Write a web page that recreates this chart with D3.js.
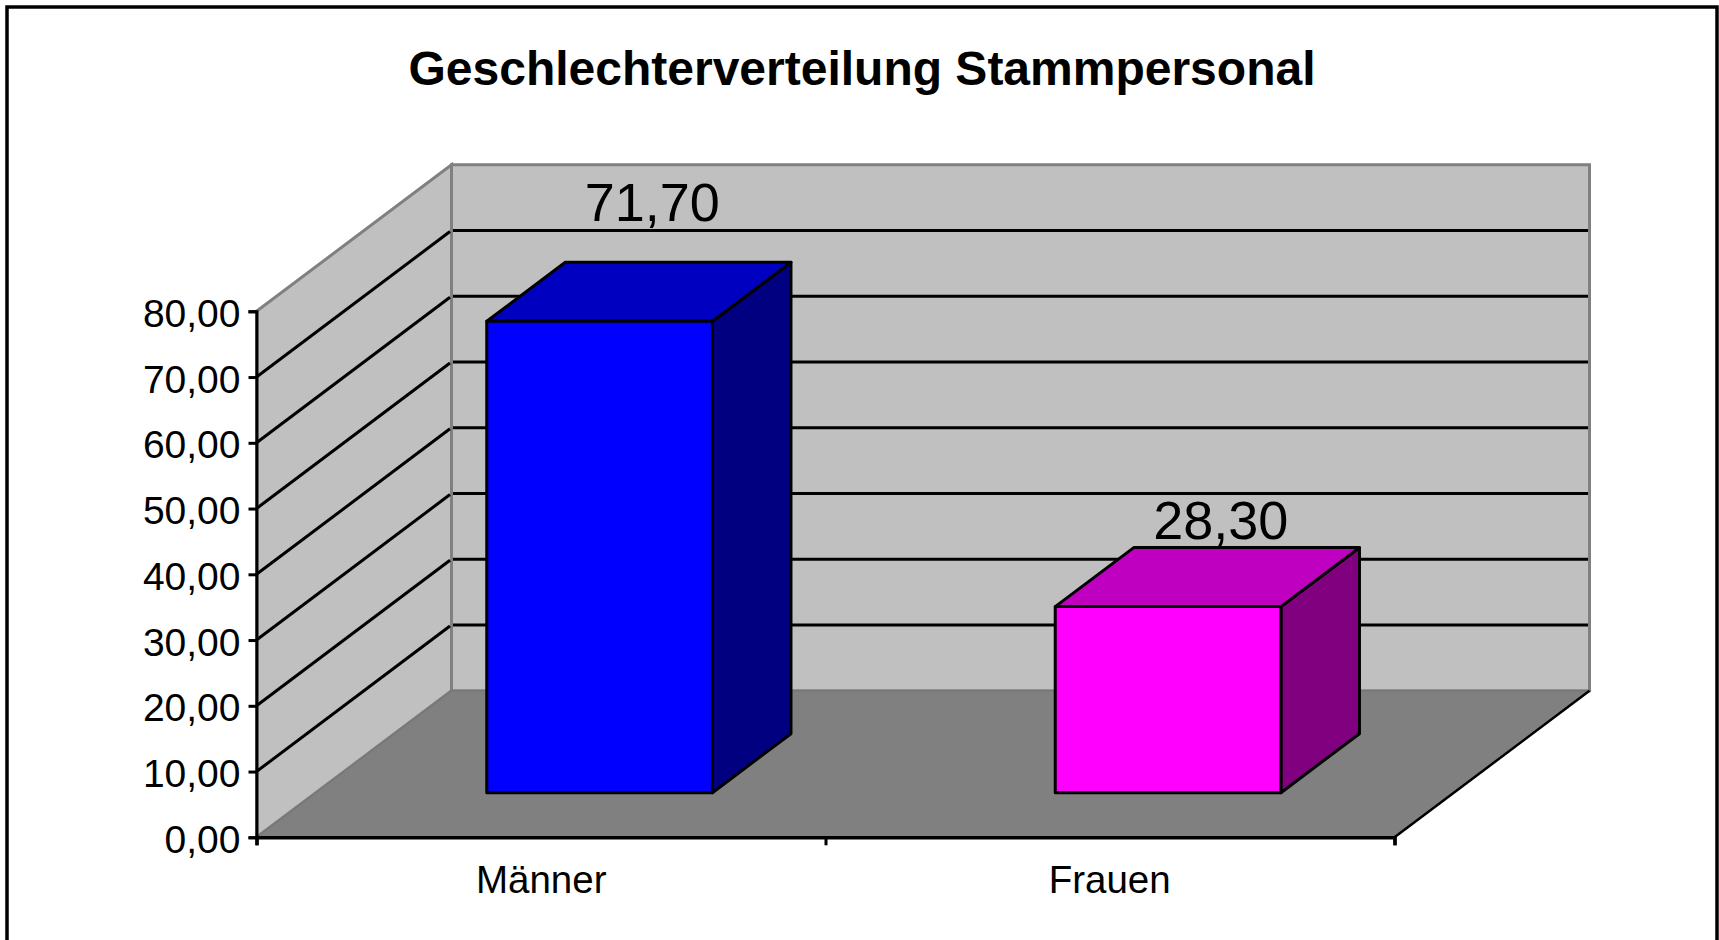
<!DOCTYPE html>
<html>
<head>
<meta charset="utf-8">
<script src="https://d3js.org/d3.v7.min.js"></script>
<style>
  html, body { margin: 0; padding: 0; background: #fff; overflow: hidden; }
  text { font-family: "Liberation Sans", Arial, sans-serif; fill: #000; }
</style>
</head>
<body>
<div id="chart"></div>
<script>
var title = 'Geschlechterverteilung Stammpersonal';
var categories = ['Männer', 'Frauen'];
var values = [71.7, 28.3];
var yTicks = [0, 10, 20, 30, 40, 50, 60, 70, 80];
var frontColors = ['#0000ff', '#ff00ff'];
var topColors = ['#0000c0', '#c000c0'];
var sideColors = ['#000080', '#800080'];
// the value labels do not sit at the same distance from their bars
var labelShift = [-41.6, -8.3];

var width = 1719, height = 940;

var svg = d3.select('#chart').append('svg')
  .attr('width', width)
  .attr('height', height)
  .style('display', 'block');

// outer frame, the bottom edge is cut off by the picture
svg.append('rect')
  .attr('x', 7).attr('y', 7)
  .attr('width', 1710).attr('height', 960)
  .attr('fill', '#fff')
  .attr('stroke', '#000')
  .attr('stroke-width', 3.5);

svg.append('text')
  .attr('x', 862).attr('y', 85)
  .attr('text-anchor', 'middle')
  .attr('font-size', 48)
  .attr('font-weight', 'bold')
  .text(title);

var x = d3.scaleBand().domain(categories).range([256.5, 1394.5])
  .paddingInner(0.603).paddingOuter(0.3024).align(0.497);
var xEdge = d3.scaleLinear().domain([0, categories.length]).range([256.5, 1394.5]);
var y = d3.scaleLinear().domain([0, 80]).range([837.3, 311.3]);
// depth of the 3d box, 0 is the front and 1 the back wall
var depthX = d3.scaleLinear().domain([0, 1]).range([0, 195]);
var depthY = d3.scaleLinear().domain([0, 1]).range([0, -146.5]);
var barFront = 0.3045, barBack = 0.7072;

var pt = function (px, value, z) {
  return [px + depthX(z), y(value) + depthY(z)];
};
var line = d3.line();
var poly = function (points) { return line(points) + 'Z'; };

var x0 = xEdge(0), x1 = xEdge(categories.length);

// side wall, back wall, floor
svg.append('path')
  .attr('d', poly([pt(x0, 0, 0), pt(x0, 80, 0), pt(x0, 80, 1), pt(x0, 0, 1)]))
  .attr('fill', '#c0c0c0').attr('stroke', '#808080').attr('stroke-width', 3);
svg.append('path')
  .attr('d', poly([pt(x0, 0, 1), pt(x0, 80, 1), pt(x1, 80, 1), pt(x1, 0, 1)]))
  .attr('fill', '#c0c0c0').attr('stroke', '#808080').attr('stroke-width', 3);
svg.append('path')
  .attr('d', poly([pt(x0, 0, 0), pt(x0, 0, 1), pt(x1, 0, 1), pt(x1, 0, 0)]))
  .attr('fill', '#808080').attr('stroke', '#777').attr('stroke-width', 1.5);

// gridlines on both walls
var grid = yTicks.slice(1, -1);
svg.selectAll('line.side').data(grid).enter().append('line')
  .attr('class', 'side')
  .attr('x1', function (d) { return pt(x0, d, 0)[0]; })
  .attr('y1', function (d) { return pt(x0, d, 0)[1]; })
  .attr('x2', function (d) { return pt(x0, d, 1)[0] - 1.5; })
  .attr('y2', function (d) { return pt(x0, d, 1)[1] + 1; })
  .attr('stroke', '#000').attr('stroke-width', 3);
svg.selectAll('line.back').data(grid).enter().append('line')
  .attr('class', 'back')
  .attr('x1', function (d) { return pt(x0, d, 1)[0] + 1.5; })
  .attr('y1', function (d) { return pt(x0, d, 1)[1]; })
  .attr('x2', function (d) { return pt(x1, d, 1)[0] - 1.5; })
  .attr('y2', function (d) { return pt(x1, d, 1)[1]; })
  .attr('stroke', '#000').attr('stroke-width', 3);

// right edge of the floor
svg.append('line')
  .attr('x1', pt(x1, 0, 0)[0]).attr('y1', pt(x1, 0, 0)[1])
  .attr('x2', pt(x1, 0, 1)[0]).attr('y2', pt(x1, 0, 1)[1])
  .attr('stroke', '#000').attr('stroke-width', 2.5);

// bars
var bars = svg.selectAll('g.bar').data(categories).enter().append('g').attr('class', 'bar');
bars.append('path')
  .attr('d', function (d, i) {
    var a = x(d), b = a + x.bandwidth();
    return poly([pt(b, 0, barFront), pt(b, values[i], barFront), pt(b, values[i], barBack), pt(b, 0, barBack)]);
  })
  .attr('fill', function (d, i) { return sideColors[i]; });
bars.append('path')
  .attr('d', function (d, i) {
    var a = x(d), b = a + x.bandwidth();
    return poly([pt(a, values[i], barFront), pt(a, values[i], barBack), pt(b, values[i], barBack), pt(b, values[i], barFront)]);
  })
  .attr('fill', function (d, i) { return topColors[i]; });
bars.append('path')
  .attr('d', function (d, i) {
    var a = x(d), b = a + x.bandwidth();
    return poly([pt(a, 0, barFront), pt(a, values[i], barFront), pt(b, values[i], barFront), pt(b, 0, barFront)]);
  })
  .attr('fill', function (d, i) { return frontColors[i]; });
bars.selectAll('path')
  .attr('stroke', '#000').attr('stroke-width', 3).attr('stroke-linejoin', 'round');

var de = d3.formatLocale({ decimal: ',', thousands: '.', grouping: [3], currency: ['', ' €'] });
var fmt = de.format('.2f');

// value labels
svg.selectAll('text.value').data(categories).enter().append('text')
  .attr('class', 'value')
  .attr('x', function (d) { return x(d) + x.bandwidth() / 2 + depthX(barFront) + 52.7; })
  .attr('y', function (d, i) { return y(values[i]) + depthY(barBack) + labelShift[i]; })
  .attr('text-anchor', 'middle')
  .attr('font-size', 54)
  .text(function (d, i) { return fmt(values[i]); });

// axes
var yAxis = d3.axisLeft(y).tickValues(yTicks).tickFormat(fmt).tickSize(8).tickPadding(8);
var gy = svg.append('g').attr('transform', 'translate(' + x0 + ',0)').call(yAxis);
gy.select('.domain').attr('stroke', '#000').attr('stroke-width', 3);
gy.selectAll('.tick line').attr('stroke', '#000').attr('stroke-width', 3);
gy.selectAll('text').attr('font-size', 39).attr('y', 2.5);

var xAxis = d3.axisBottom(xEdge).tickValues([0, 1, 2]).tickFormat('').tickSize(8);
var gx = svg.append('g').attr('transform', 'translate(0,' + y(0) + ')').call(xAxis);
gx.select('.domain').attr('stroke', '#000').attr('stroke-width', 3.5);
gx.selectAll('.tick line').attr('stroke', '#000').attr('stroke-width', 3);

svg.selectAll('text.cat').data(categories).enter().append('text')
  .attr('class', 'cat')
  .attr('x', function (d) { return x(d) + x.bandwidth() / 2 + 1; })
  .attr('y', 893)
  .attr('text-anchor', 'middle')
  .attr('font-size', 38.5)
  .text(function (d) { return d; });
</script>
</body>
</html>
